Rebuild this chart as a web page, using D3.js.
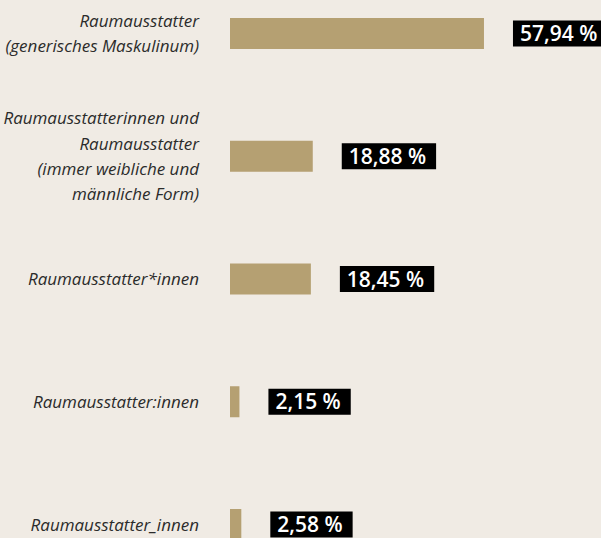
<!DOCTYPE html>
<html>
<head>
<meta charset="utf-8">
<script src="https://cdn.jsdelivr.net/npm/d3@7"></script>
<style>
  html, body { margin: 0; padding: 0; background: #f0ebe4; }
  svg { display: block; }
</style>
</head>
<body>
<div id="chart"></div>
<script>
// categories (ids) and their multi-line labels
const categories = ["generisch", "beide", "stern", "doppelpunkt", "unterstrich"]
const labelLines = [
  ["Raumausstatter", "(generisches Maskulinum)"],
  ["Raumausstatterinnen und", "Raumausstatter", "(immer weibliche und", "männliche Form)"],
  ["Raumausstatter*innen"],
  ["Raumausstatter:innen"],
  ["Raumausstatter_innen"]
]
const values = [57.94, 18.88, 18.45, 2.15, 2.58]
const valueLabels = ["57,94 %", "18,88 %", "18,45 %", "2,15 %", "2,58 %"]

const width = 601
const height = 538
const barH = 31
const lineH = 25.3

const svg = d3.select("#chart")
  .append("svg")
  .attr("width", width)
  .attr("height", height)

svg.append("rect")
  .attr("width", width)
  .attr("height", height)
  .attr("fill", "#f0ebe4")

const x = d3.scaleLinear().domain([0, 60]).range([230, 493])
const y = d3.scalePoint().domain(categories).range([33.5, 524.5])

const rows = svg.selectAll("g.row")
  .data(categories.map((c, i) => ({ c, i })))
  .enter()
  .append("g")
  .attr("class", "row")

// bars
rows.append("rect")
  .attr("x", x(0))
  .attr("y", d => y(d.c) - barH / 2)
  .attr("width", d => x(values[d.i]) - x(0))
  .attr("height", barH)
  .attr("fill", "#b5a072")

// category labels
rows.append("text")
  .attr("text-anchor", "end")
  .attr("font-family", "'Open Sans', sans-serif")
  .attr("font-style", "italic")
  .attr("font-size", 17)
  .attr("fill", "#2b2b2b")
  .each(function(d) {
    const lines = labelLines[d.i]
    const first = y(d.c) - (lines.length - 1) * lineH / 2 + 6
    d3.select(this).selectAll("tspan")
      .data(lines)
      .enter()
      .append("tspan")
      .attr("x", 199)
      .attr("y", (l, k) => first + k * lineH)
      .text(l => l)
  })

// value boxes
rows.each(function(d) {
  const g = d3.select(this)
  const bx = x(values[d.i]) + 29
  const box = g.append("rect")
    .attr("x", bx)
    .attr("y", y(d.c) - 13)
    .attr("height", 26)
    .attr("fill", "#000")
  const t = g.append("text")
    .attr("x", bx + 7)
    .attr("y", y(d.c) + 7.5)
    .attr("font-family", "'Open Sans', sans-serif")
    .attr("font-weight", 600)
    .attr("font-size", 21)
    .attr("fill", "#fff")
    .text(valueLabels[d.i])
  const w = t.node().getComputedTextLength()
  box.attr("width", w + 17)
})
</script>
</body>
</html>
